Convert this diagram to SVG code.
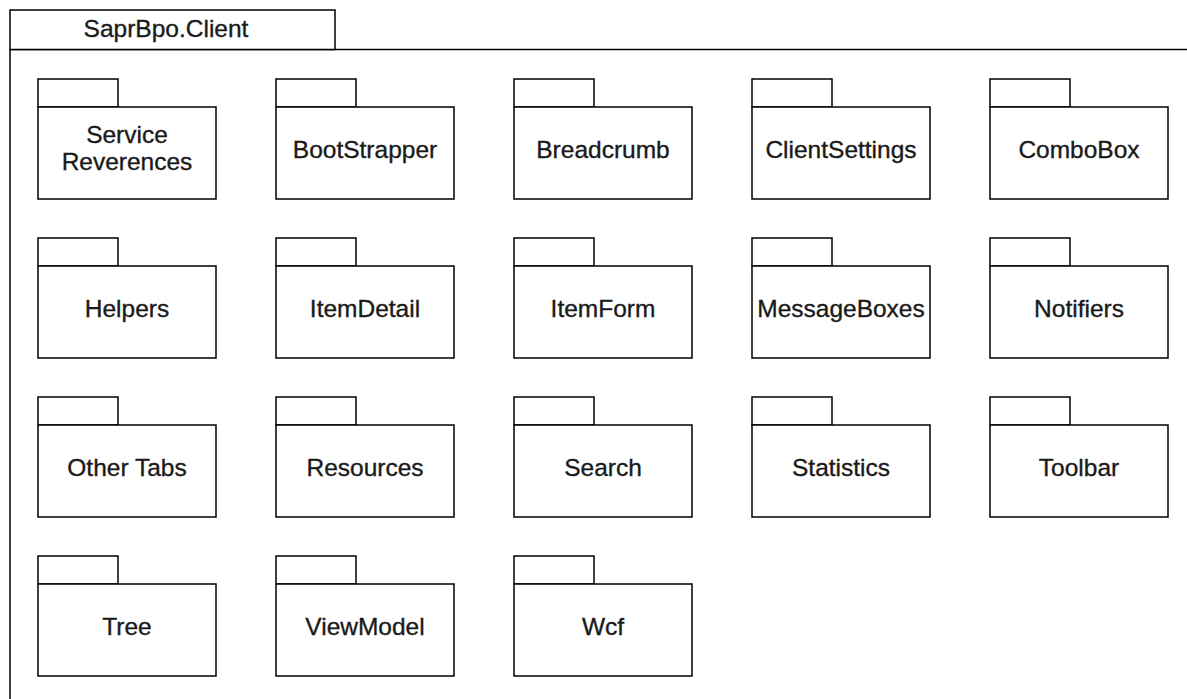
<svg xmlns="http://www.w3.org/2000/svg" xmlns:xlink="http://www.w3.org/1999/xlink" width="1187" height="699" viewBox="0 0 1187 699">
  <style>
    .ln { fill: #ffffff; stroke: #000000; stroke-width: 1.5; }
    .lbl { font-family: "Liberation Sans", Arial, sans-serif; font-size: 24.5px; fill: #1a1a1a; stroke: #1a1a1a; stroke-width: 0.35; text-anchor: middle; }
  </style>
  <defs>
    <!-- UML package glyph: small tab over a body box, origin at tab top-left -->
    <g id="pkg">
      <rect class="ln" x="0" y="0" width="80" height="28"/>
      <rect class="ln" x="0" y="28" width="178" height="92"/>
    </g>
  </defs>
  <rect width="1187" height="699" fill="#ffffff"/>

  <!-- outer package frame -->
  <g id="frame">
    <path class="ln" d="M10 720 V49.5 H1200" fill="none"/>
    <rect class="ln" x="10" y="10" width="325" height="39.5"/>
    <text class="lbl" x="166" y="37">SaprBpo.Client</text>
  </g>

  <g id="connectors"/>

  <!-- row 1 -->
  <g id="service-reverences" transform="translate(38,79)">
    <use xlink:href="#pkg"/>
    <text class="lbl" x="89" y="63.5">Service</text>
    <text class="lbl" x="89" y="91">Reverences</text>
  </g>
  <g id="bootstrapper" transform="translate(276,79)">
    <use xlink:href="#pkg"/>
    <text class="lbl" x="89" y="79">BootStrapper</text>
  </g>
  <g id="breadcrumb" transform="translate(514,79)">
    <use xlink:href="#pkg"/>
    <text class="lbl" x="89" y="79">Breadcrumb</text>
  </g>
  <g id="clientsettings" transform="translate(752,79)">
    <use xlink:href="#pkg"/>
    <text class="lbl" x="89" y="79">ClientSettings</text>
  </g>
  <g id="combobox" transform="translate(990,79)">
    <use xlink:href="#pkg"/>
    <text class="lbl" x="89" y="79">ComboBox</text>
  </g>

  <!-- row 2 -->
  <g id="helpers" transform="translate(38,238)">
    <use xlink:href="#pkg"/>
    <text class="lbl" x="89" y="79">Helpers</text>
  </g>
  <g id="itemdetail" transform="translate(276,238)">
    <use xlink:href="#pkg"/>
    <text class="lbl" x="89" y="79">ItemDetail</text>
  </g>
  <g id="itemform" transform="translate(514,238)">
    <use xlink:href="#pkg"/>
    <text class="lbl" x="89" y="79">ItemForm</text>
  </g>
  <g id="messageboxes" transform="translate(752,238)">
    <use xlink:href="#pkg"/>
    <text class="lbl" x="89" y="79">MessageBoxes</text>
  </g>
  <g id="notifiers" transform="translate(990,238)">
    <use xlink:href="#pkg"/>
    <text class="lbl" x="89" y="79">Notifiers</text>
  </g>

  <!-- row 3 -->
  <g id="other-tabs" transform="translate(38,397)">
    <use xlink:href="#pkg"/>
    <text class="lbl" x="89" y="79">Other Tabs</text>
  </g>
  <g id="resources" transform="translate(276,397)">
    <use xlink:href="#pkg"/>
    <text class="lbl" x="89" y="79">Resources</text>
  </g>
  <g id="search" transform="translate(514,397)">
    <use xlink:href="#pkg"/>
    <text class="lbl" x="89" y="79">Search</text>
  </g>
  <g id="statistics" transform="translate(752,397)">
    <use xlink:href="#pkg"/>
    <text class="lbl" x="89" y="79">Statistics</text>
  </g>
  <g id="toolbar" transform="translate(990,397)">
    <use xlink:href="#pkg"/>
    <text class="lbl" x="89" y="79">Toolbar</text>
  </g>

  <!-- row 4 -->
  <g id="tree" transform="translate(38,556)">
    <use xlink:href="#pkg"/>
    <text class="lbl" x="89" y="79">Tree</text>
  </g>
  <g id="viewmodel" transform="translate(276,556)">
    <use xlink:href="#pkg"/>
    <text class="lbl" x="89" y="79">ViewModel</text>
  </g>
  <g id="wcf" transform="translate(514,556)">
    <use xlink:href="#pkg"/>
    <text class="lbl" x="89" y="79">Wcf</text>
  </g>
</svg>
